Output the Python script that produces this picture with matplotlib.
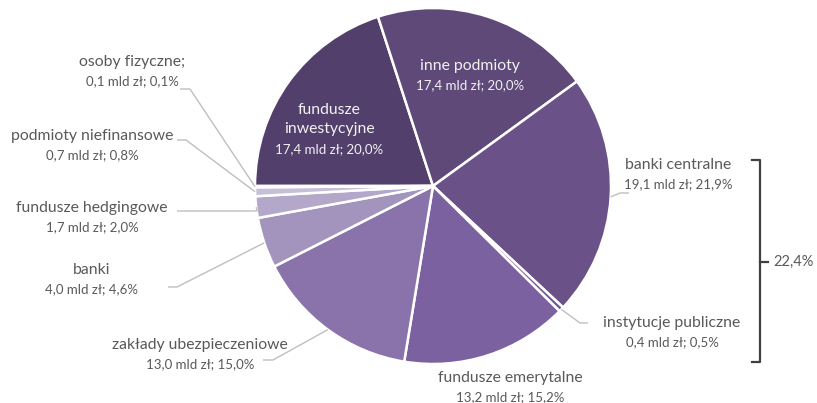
import numpy as np
import matplotlib
matplotlib.use('Agg')
import matplotlib.pyplot as plt

plt.rcParams['font.family'] = ['Lato', 'DejaVu Sans']

W, H = 817, 403

# structure of holders, mld zł (clockwise from the left edge)
names = ['fundusze\ninwestycyjne', 'inne podmioty', 'banki centralne',
         'instytucje publiczne', 'fundusze emerytalne', 'zakłady ubezpieczeniowe',
         'banki', 'fundusze hedgingowe', 'podmioty niefinansowe', 'osoby fizyczne;']
values = [17.4, 17.4, 19.1, 0.4, 13.2, 13.0, 4.0, 1.7, 0.7, 0.1]
amount_txt = ['17,4', '17,4', '19,1', '0,4', '13,2', '13,0', '4,0', '1,7', '0,7', '0,1']
share_txt = ['20,0%', '20,0%', '21,9%', '0,5%', '15,2%', '15,0%', '4,6%', '2,0%', '0,8%', '0,1%']
group_share = '22,4%'

colors = ['#523f6b', '#5e4979', '#6a5289', '#735b96', '#7c61a0', '#8a73aa',
          '#a394bd', '#b3a8ca', '#c7bed8', '#dad4e4']

cx, cy, r = 433, 186, 178
txt_col = '#595959'
fs_name = 11.3
fs_val = 9.5
line_h = 19.5


def px(x, y):
    return x, H - y


def label_block(x, y, name, val, color):
    # (x, y) is the centre of the first name line; amount and share go last
    lines = name.split('\n')
    for k, ln in enumerate(lines):
        ax.text(*px(x, y + k * line_h), ln, ha='center', va='center',
                fontsize=fs_name, color=color)
    ax.text(*px(x, y + len(lines) * line_h), val, ha='center', va='center',
            fontsize=fs_val, color=color)


fig = plt.figure(figsize=(W / 100, H / 100), dpi=100)
ax = fig.add_axes([0, 0, 1, 1])

wedges, _ = ax.pie(values, colors=colors, startangle=180, counterclock=False,
                   center=px(cx, cy), radius=r, frame=True,
                   wedgeprops=dict(edgecolor='white', linewidth=1.8))
ax.set_xlim(0, W)
ax.set_ylim(0, H)
ax.set_aspect('equal')
ax.axis('off')

val_txt = ['{} mld zł; {}'.format(a, s) for a, s in zip(amount_txt, share_txt)]

# labels inside the two big wedges
label_block(329, 110, names[0], val_txt[0], '#f2f2f2')
label_block(470, 66, names[1], val_txt[1], '#f2f2f2')

# outside labels: first line centre, leader elbow, leader end next to the text
outside = {
    2: ((678, 165), (620, 193), (629, 193)),
    3: ((672, 323), (580, 323), (588, 323)),
    4: ((510, 378), None, None),
    5: ((200, 345), (273, 360), (263, 360)),
    6: ((92, 270), (177, 287), (168, 287)),
    7: ((92, 208), (257, 211), (177, 211)),
    8: ((92, 136), (186, 140), (177, 140)),
    9: ((132, 62), (190, 89), (180, 89)),
}
for i, (tpos, elbow, end) in outside.items():
    label_block(tpos[0], tpos[1], names[i], val_txt[i], txt_col)
    if elbow is None:
        continue
    w = wedges[i]
    mid = np.deg2rad((w.theta1 + w.theta2) / 2)
    ex, ey = cx + r * np.cos(mid), cy - r * np.sin(mid)
    xs = [ex, elbow[0], end[0]]
    ys = [H - ey, H - elbow[1], H - end[1]]
    ax.plot(xs, ys, color='#bfbfbf', lw=1.0, solid_capstyle='butt')

# bracket grouping banki centralne and instytucje publiczne
bx, btop, bbot, bmid = 760, 160, 362, 262
ax.plot([752, bx, bx, 752], [H - btop, H - btop, H - bbot, H - bbot],
        color='#404040', lw=1.6)
ax.plot([bx, 768], [H - bmid, H - bmid], color='#404040', lw=1.6)
ax.text(*px(794, bmid), group_share, ha='center', va='center', fontsize=10.5,
        color=txt_col)

fig.savefig('out.png', dpi=100)
